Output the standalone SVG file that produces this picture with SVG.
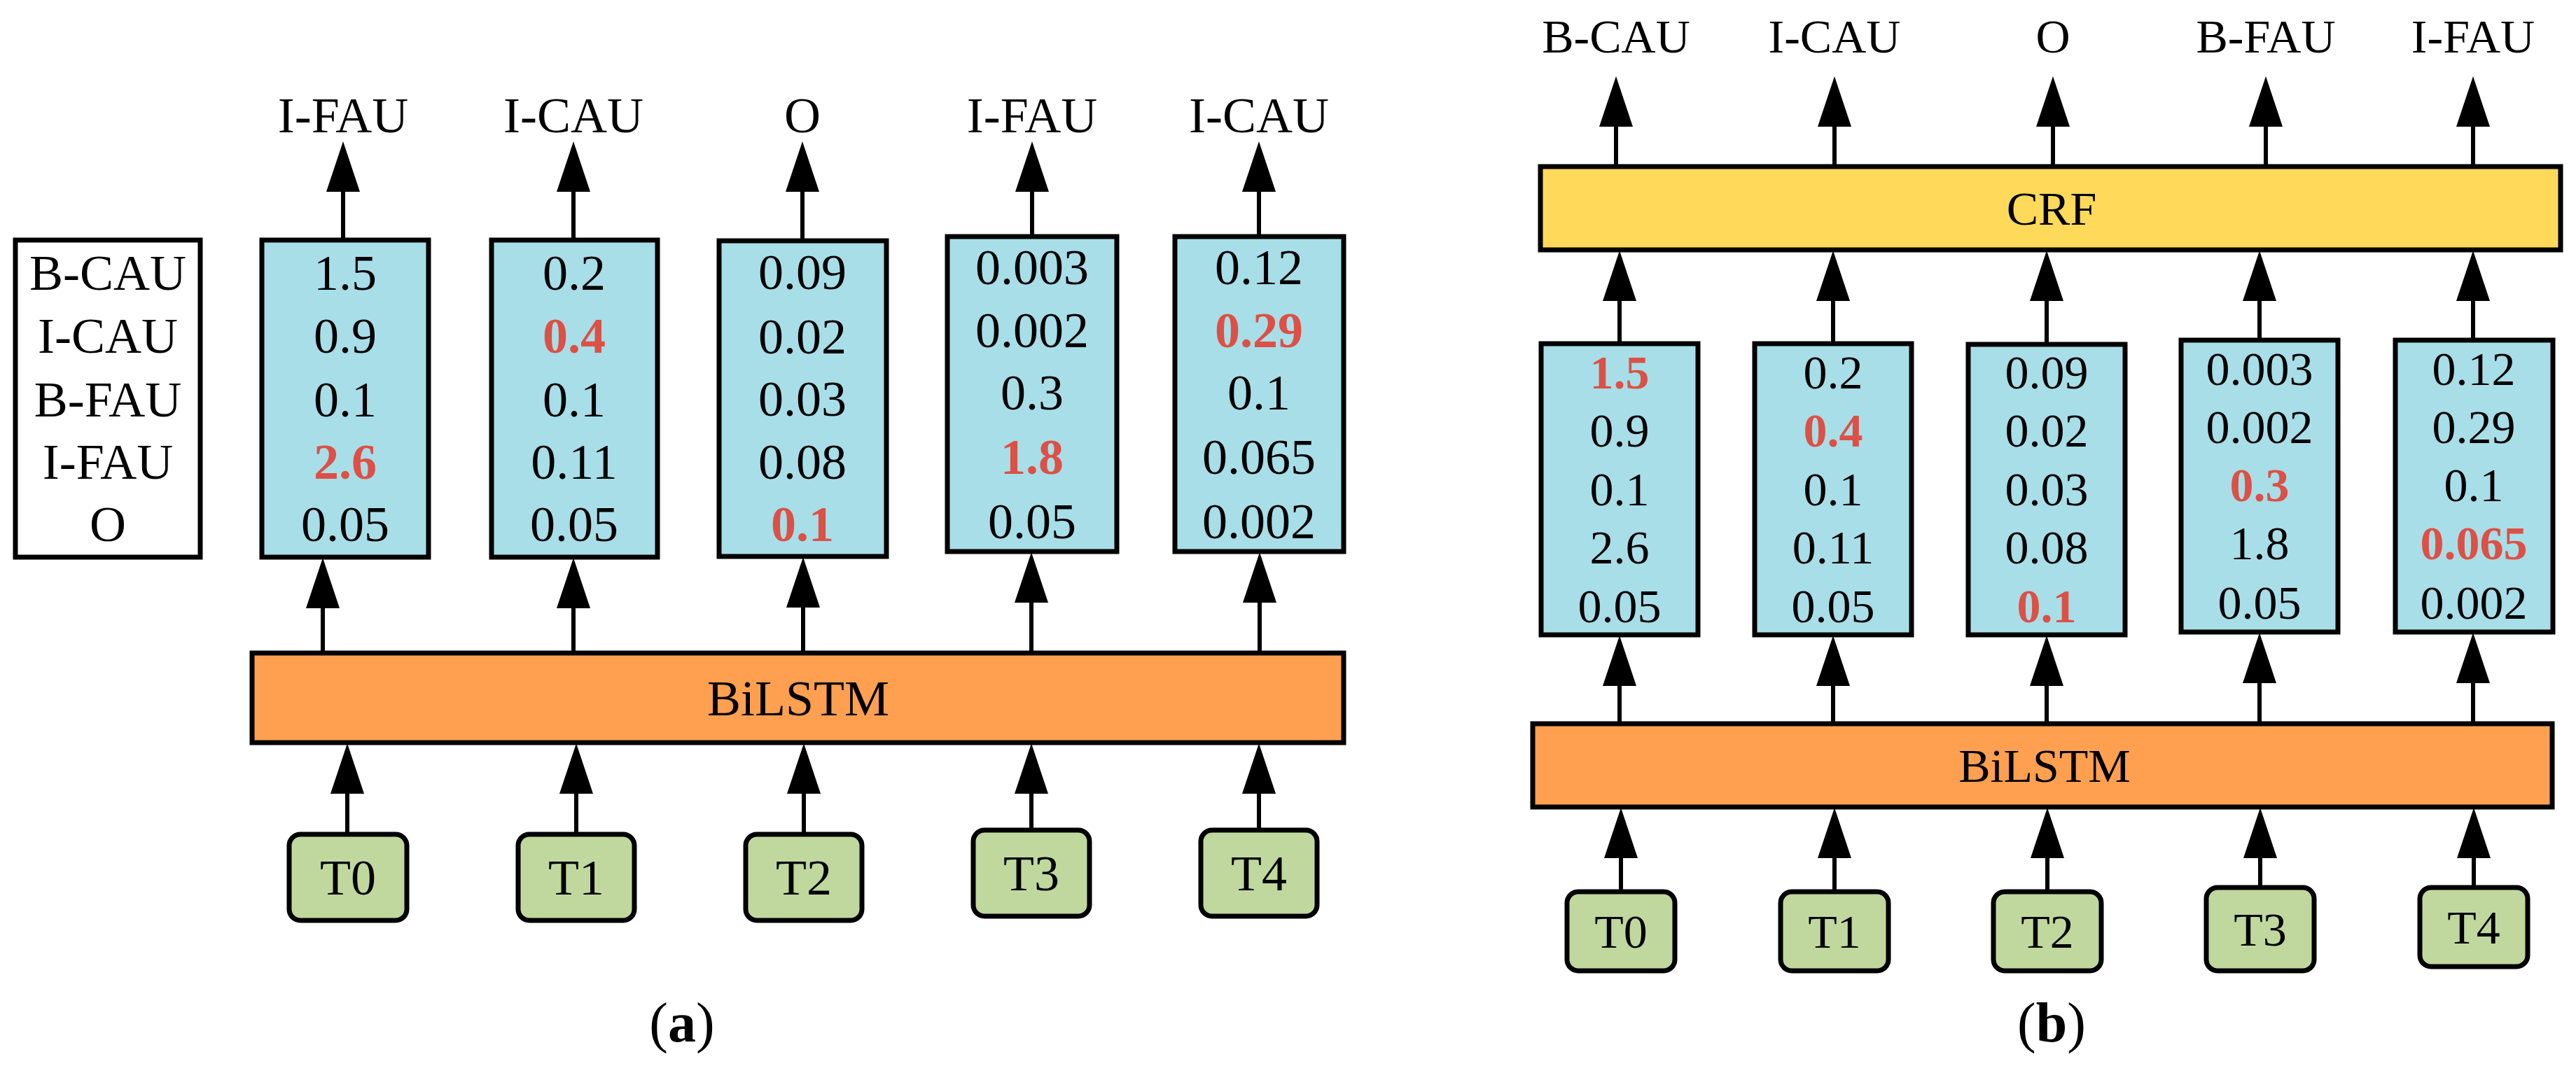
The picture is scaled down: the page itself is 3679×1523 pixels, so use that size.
<svg xmlns="http://www.w3.org/2000/svg" xmlns:xlink="http://www.w3.org/1999/xlink" width="3679" height="1523" viewBox="0 0 3679 1523">
<style>
text{font-family:"Liberation Serif","Times New Roman",serif;fill:#000;text-anchor:middle}
.a{font-size:72px}
.b{font-size:68px}
.r{fill:#DD5045;font-weight:bold}
.box{stroke:#000;stroke-width:7}
.blue{fill:#A8DEE8}
.ln{stroke:#000;stroke-width:6;fill:none}
</style>
<defs>
<path id="ah" d="M0,0 L-24,72 L24,72Z" fill="#000"/>
</defs>
<rect width="3679" height="1523" fill="#fff"/>
<!-- Panel a -->
<g id="labels-a">
<rect class="box" x="22" y="343" width="264" height="453" fill="#fff"/>
<text class="a" x="154" y="414">B-CAU</text><text class="a" x="154" y="504">I-CAU</text><text class="a" x="154" y="595">B-FAU</text><text class="a" x="154" y="684">I-FAU</text><text class="a" x="154" y="773">O</text>
</g>
<g id="a-box0"><rect class="box blue" x="374" y="343" width="238" height="453"/>
<text class="a" x="493" y="414">1.5</text><text class="a" x="493" y="504">0.9</text><text class="a" x="493" y="595">0.1</text><text class="a r" x="493" y="684">2.6</text><text class="a" x="493" y="773">0.05</text></g>
<g id="a-box1"><rect class="box blue" x="702" y="343" width="237" height="453"/>
<text class="a" x="820" y="414">0.2</text><text class="a r" x="820" y="504">0.4</text><text class="a" x="820" y="595">0.1</text><text class="a" x="820" y="684">0.11</text><text class="a" x="820" y="773">0.05</text></g>
<g id="a-box2"><rect class="box blue" x="1027" y="344" width="239" height="451"/>
<text class="a" x="1146" y="413">0.09</text><text class="a" x="1146" y="505">0.02</text><text class="a" x="1146" y="594">0.03</text><text class="a" x="1146" y="684">0.08</text><text class="a r" x="1146" y="773">0.1</text></g>
<g id="a-box3"><rect class="box blue" x="1353" y="338" width="242" height="450"/>
<text class="a" x="1474" y="406">0.003</text><text class="a" x="1474" y="496">0.002</text><text class="a" x="1474" y="585">0.3</text><text class="a r" x="1474" y="677">1.8</text><text class="a" x="1474" y="769">0.05</text></g>
<g id="a-box4"><rect class="box blue" x="1678" y="338" width="241" height="450"/>
<text class="a" x="1798" y="406">0.12</text><text class="a r" x="1798" y="496">0.29</text><text class="a" x="1798" y="585">0.1</text><text class="a" x="1798" y="677">0.065</text><text class="a" x="1798" y="769">0.002</text></g>
<g id="a-out">
<text class="a" x="490" y="189">I-FAU</text><text class="a" x="819" y="189">I-CAU</text><text class="a" x="1146" y="189">O</text><text class="a" x="1474" y="189">I-FAU</text><text class="a" x="1798" y="189">I-CAU</text>
</g>
<g id="a-bilstm"><rect class="box" x="360" y="933" width="1559" height="128" fill="#FFA050"/>
<text class="a" x="1140" y="1022">BiLSTM</text></g>
<g id="a-tokens" fill="#C0D89E">
<rect class="box" x="413" y="1192" width="168" height="123" rx="16"/><text class="a" x="497" y="1278">T0</text>
<rect class="box" x="740" y="1192" width="166" height="123" rx="16"/><text class="a" x="823" y="1278">T1</text>
<rect class="box" x="1065" y="1192" width="166" height="123" rx="16"/><text class="a" x="1148" y="1278">T2</text>
<rect class="box" x="1390" y="1186" width="166" height="123" rx="16"/><text class="a" x="1473" y="1272">T3</text>
<rect class="box" x="1715" y="1186" width="166" height="123" rx="16"/><text class="a" x="1798" y="1272">T4</text>
</g>
<text id="cap-a" x="974" y="1488" style="font-size:80px">(<tspan font-weight="bold">a</tspan>)</text>
<!-- Panel b -->
<g id="b-out">
<text class="b" x="2308" y="75">B-CAU</text><text class="b" x="2620" y="75">I-CAU</text><text class="b" x="2932" y="75">O</text><text class="b" x="3236" y="75">B-FAU</text><text class="b" x="3532" y="75">I-FAU</text>
</g>
<g id="b-crf"><rect class="box" x="2200" y="238" width="1457" height="119" fill="#FFD95A"/>
<text class="b" x="2930" y="321">CRF</text></g>
<g id="b-box0"><rect class="box blue" x="2201" y="491" width="224" height="416"/>
<text class="b r" x="2313" y="555">1.5</text><text class="b" x="2313" y="638">0.9</text><text class="b" x="2313" y="722">0.1</text><text class="b" x="2313" y="805">2.6</text><text class="b" x="2313" y="889">0.05</text></g>
<g id="b-box1"><rect class="box blue" x="2506" y="491" width="224" height="416"/>
<text class="b" x="2618" y="555">0.2</text><text class="b r" x="2618" y="638">0.4</text><text class="b" x="2618" y="722">0.1</text><text class="b" x="2618" y="805">0.11</text><text class="b" x="2618" y="889">0.05</text></g>
<g id="b-box2"><rect class="box blue" x="2811" y="492" width="224" height="415"/>
<text class="b" x="2923" y="555">0.09</text><text class="b" x="2923" y="638">0.02</text><text class="b" x="2923" y="722">0.03</text><text class="b" x="2923" y="805">0.08</text><text class="b r" x="2923" y="889">0.1</text></g>
<g id="b-box3"><rect class="box blue" x="3115" y="486" width="224" height="417"/>
<text class="b" x="3227" y="550">0.003</text><text class="b" x="3227" y="633">0.002</text><text class="b r" x="3227" y="716">0.3</text><text class="b" x="3227" y="799">1.8</text><text class="b" x="3227" y="884">0.05</text></g>
<g id="b-box4"><rect class="box blue" x="3421" y="486" width="225" height="417"/>
<text class="b" x="3533" y="550">0.12</text><text class="b" x="3533" y="633">0.29</text><text class="b" x="3533" y="716">0.1</text><text class="b r" x="3533" y="799">0.065</text><text class="b" x="3533" y="884">0.002</text></g>
<g id="b-bilstm"><rect class="box" x="2189" y="1034" width="1456" height="119" fill="#FFA050"/>
<text class="b" x="2920" y="1117">BiLSTM</text></g>
<g id="b-tokens" fill="#C0D89E">
<rect class="box" x="2238" y="1274" width="154" height="113" rx="16"/><text class="b" x="2315" y="1354">T0</text>
<rect class="box" x="2543" y="1274" width="154" height="113" rx="16"/><text class="b" x="2620" y="1354">T1</text>
<rect class="box" x="2847" y="1274" width="154" height="113" rx="16"/><text class="b" x="2924" y="1354">T2</text>
<rect class="box" x="3151" y="1268" width="154" height="119" rx="16"/><text class="b" x="3228" y="1351">T3</text>
<rect class="box" x="3456" y="1268" width="154" height="113" rx="16"/><text class="b" x="3533" y="1348">T4</text>
</g>
<text id="cap-b" x="2930" y="1488" style="font-size:80px">(<tspan font-weight="bold">b</tspan>)</text>
<!-- Connectors -->
<g id="connectors">
<path class="ln" d="M490,343V270 M819,343V270 M1146,344V270 M1474,338V270 M1798,338V270
M461,933V865 M819,933V865 M1147,933V865 M1473,933V860 M1799,933V860
M496,1192V1130 M823,1192V1130 M1148,1192V1130 M1473,1186V1130 M1798,1186V1130
M2308,238V176 M2620,238V176 M2932,238V176 M3236,238V176 M3532,238V176
M2313,491V425 M2618,491V425 M2923,492V425 M3227,486V425 M3532,486V425
M2313,1034V970 M2618,1034V970 M2923,1034V970 M3227,1034V965 M3532,1034V965
M2315,1274V1220 M2620,1274V1220 M2924,1274V1220 M3228,1268V1220 M3533,1268V1220"/>
<use xlink:href="#ah" x="490" y="202"/><use xlink:href="#ah" x="819" y="202"/><use xlink:href="#ah" x="1146" y="202"/><use xlink:href="#ah" x="1474" y="202"/><use xlink:href="#ah" x="1798" y="202"/>
<use xlink:href="#ah" x="461" y="797"/><use xlink:href="#ah" x="819" y="797"/><use xlink:href="#ah" x="1147" y="796"/><use xlink:href="#ah" x="1473" y="789"/><use xlink:href="#ah" x="1799" y="789"/>
<use xlink:href="#ah" x="496" y="1062"/><use xlink:href="#ah" x="823" y="1062"/><use xlink:href="#ah" x="1148" y="1062"/><use xlink:href="#ah" x="1473" y="1062"/><use xlink:href="#ah" x="1798" y="1062"/>
<use xlink:href="#ah" x="2308" y="109"/><use xlink:href="#ah" x="2620" y="109"/><use xlink:href="#ah" x="2932" y="109"/><use xlink:href="#ah" x="3236" y="109"/><use xlink:href="#ah" x="3532" y="109"/>
<use xlink:href="#ah" x="2313" y="358"/><use xlink:href="#ah" x="2618" y="358"/><use xlink:href="#ah" x="2923" y="358"/><use xlink:href="#ah" x="3227" y="358"/><use xlink:href="#ah" x="3532" y="358"/>
<use xlink:href="#ah" x="2313" y="908"/><use xlink:href="#ah" x="2618" y="908"/><use xlink:href="#ah" x="2923" y="908"/><use xlink:href="#ah" x="3227" y="904"/><use xlink:href="#ah" x="3532" y="904"/>
<use xlink:href="#ah" x="2315" y="1154"/><use xlink:href="#ah" x="2620" y="1154"/><use xlink:href="#ah" x="2924" y="1154"/><use xlink:href="#ah" x="3228" y="1154"/><use xlink:href="#ah" x="3533" y="1154"/>
</g>
</svg>
